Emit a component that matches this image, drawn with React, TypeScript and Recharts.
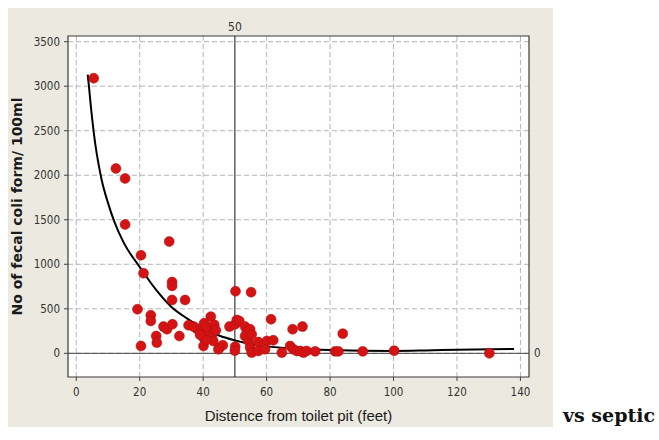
import {
  ComposedChart,
  Scatter,
  Line,
  XAxis,
  YAxis,
  ZAxis,
  CartesianGrid,
  ReferenceLine,
  ReferenceArea,
} from 'recharts';

// measured samples: distance from toilet pit (feet) vs fecal coliform count
const distances = [
  5.5, 12.5, 15.4, 15.4, 29.3, 20.4, 21.2, 30.2, 30.2, 30.2, 34.3, 19.3, 23.5, 23.5, 27.5, 28.6,
  30.3, 35.4, 25.2, 25.4, 20.4, 32.5, 42.4, 40.3, 39.6, 40.1, 40.1, 41.7, 42.7, 43.2, 45.1, 46.2,
  38, 48.3, 50.2, 55.1, 50.1, 50.6, 51.4, 50.1, 53.2, 53.8, 54.8, 53.2, 54.3, 54.8, 55.3, 55.3,
  57.4, 57.4, 60.1, 59.5, 61.4, 62.1, 64.8, 68.2, 71.3, 67.4, 68.4, 69.5, 70.6, 71.6, 72.6, 75.3,
  81.6, 82.6, 84, 90.3, 100.2, 130.2, 41, 43.5, 44, 39, 41, 44.8, 50, 37,
];
const coliforms = [
  3090, 2076, 1964, 1447, 1255, 1101, 899, 801, 757, 599, 599, 495, 427, 363, 300, 270,
  326, 315, 194, 120, 82, 194, 412, 337, 251, 176, 82, 232, 176, 139, 60, 90,
  277, 300, 697, 686, 326, 374, 363, 75, 300, 251, 270, 194, 139, 64, 8, 213,
  127, 26, 139, 45, 382, 146, 8, 270, 300, 82, 45, 26, 26, 8, 26, 22,
  22, 22, 221, 22, 30, 0, 300, 320, 260, 210, 150, 45, 30, 300,
];

// fitted trend curve
const trendX = [3.6, 4, 4.5, 5, 6, 7, 8, 10, 12, 15, 20, 25, 30, 35, 40, 45, 50, 55, 60, 70, 80, 90, 100, 110, 120, 138];
const trendY = [3130, 3000, 2810, 2640, 2350, 2130, 1950, 1690, 1480, 1240, 970, 720, 520, 390, 280, 200, 145, 105, 78, 52, 38, 30, 27, 32, 40, 48];

const xTicks = [0, 20, 40, 60, 80, 100, 120, 140];
const yTicks = [0, 500, 1000, 1500, 2000, 2500, 3000, 3500];

const X_DOMAIN: [number, number] = [-2.6, 142.7];
const Y_DOMAIN: [number, number] = [-266, 3564];

const points = distances.map((x, i) => ({ x, y: coliforms[i] }));
const trend = trendX.map((x, i) => ({ x, y: trendY[i] }));

const tickStyle = {
  fontFamily: "'DejaVu Sans Condensed', 'Liberation Sans', sans-serif",
  fontSize: 11.5,
  fill: '#333',
};

const App = () => {
  return (
    <div style={{ position: 'absolute', left: 0, top: 0, width: 659, height: 440, background: '#fff' }}>
      <div
        style={{
          position: 'absolute',
          left: 8,
          top: 8,
          width: 545,
          height: 419,
          background: '#ECE9E0',
        }}
      >
        <ComposedChart
          width={545}
          height={419}
          margin={{ top: 28, right: 24, bottom: 0, left: 0 }}
        >
          <CartesianGrid
            fill="#fff"
            stroke="#b4b4b4"
            strokeDasharray="5 3"
            horizontalValues={yTicks}
            verticalValues={xTicks}
          />
          <XAxis
            type="number"
            dataKey="x"
            domain={X_DOMAIN}
            ticks={xTicks}
            allowDataOverflow
            height={50}
            axisLine={false}
            tickLine={{ stroke: '#444' }}
            tickSize={4}
            tickMargin={7}
            tick={tickStyle}
            label={{
              value: 'Distence from toilet pit (feet)',
              position: 'insideBottom',
              offset: 6,
              style: { fontFamily: "'Liberation Sans', Arial, sans-serif", fontSize: 15, fill: '#1a1a1a' },
            }}
          />
          <YAxis
            type="number"
            dataKey="y"
            domain={Y_DOMAIN}
            ticks={yTicks}
            allowDataOverflow
            width={60}
            axisLine={false}
            tickLine={{ stroke: '#444' }}
            tickSize={4}
            tickMargin={4}
            tick={tickStyle}
            label={{
              value: 'No of fecal coli form/ 100ml',
              angle: -90,
              position: 'insideLeft',
              offset: 9,
              style: {
                textAnchor: 'middle',
                fontFamily: "'DejaVu Sans', sans-serif",
                fontWeight: 'bold',
                fontSize: 14,
                fill: '#1a1a1a',
              },
            }}
          />
          <ZAxis range={[78, 78]} />
          <ReferenceArea
            x1={X_DOMAIN[0]}
            x2={X_DOMAIN[1]}
            y1={Y_DOMAIN[0]}
            y2={Y_DOMAIN[1]}
            fill="none"
            stroke="#3a3a3a"
            strokeWidth={1.2}
          />
          <ReferenceLine
            y={0}
            stroke="#444"
            label={{ value: '0', position: 'right', offset: 5, style: tickStyle }}
          />
          <ReferenceLine
            x={50}
            stroke="#111"
            label={{ value: '50', position: 'top', offset: 5, style: { ...tickStyle, fontSize: 12 } }}
          />
          <Scatter data={points} fill="#d41414" stroke="#b00c0c" strokeWidth={0.5} isAnimationActive={false} />
          <Line
            data={trend}
            dataKey="y"
            type="monotone"
            stroke="#000"
            strokeWidth={2}
            dot={false}
            activeDot={false}
            isAnimationActive={false}
          />
        </ComposedChart>
      </div>
      <div
        style={{
          position: 'absolute',
          right: 4,
          top: 404,
          whiteSpace: 'nowrap',
          fontFamily: "'DejaVu Serif', 'Liberation Serif', serif",
          fontWeight: 'bold',
          fontSize: 19,
          color: '#111',
        }}
      >
        vs septic
      </div>
    </div>
  );
};

export default App;
